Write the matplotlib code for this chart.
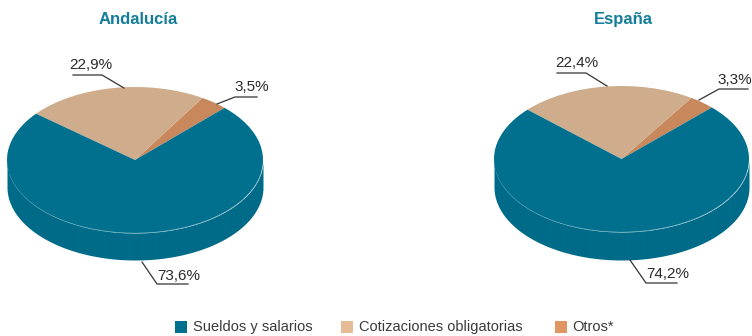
import numpy as np
import matplotlib
matplotlib.use('Agg')
import matplotlib.pyplot as plt
from matplotlib.patches import Rectangle

plt.rcParams['font.family'] = ['Liberation Sans', 'DejaVu Sans']

categorias = ['Sueldos y salarios', 'Cotizaciones obligatorias', 'Otros*']
regiones = ['Andalucía', 'España']
# order: otros, cotizaciones, sueldos (counter clockwise from the start angle)
valores_and = [3.5, 22.9, 73.6]
valores_esp = [3.3, 22.4, 74.2]
etiquetas_and = ['3,5%', '22,9%', '73,6%']
etiquetas_esp = ['3,3%', '22,4%', '74,2%']
colores_pie = ['#C9885C', '#CFAC8B', '#00708E']
colores_ley = ['#00708E', '#E6BC96', '#E09562']
color_lado = '#006B89'
W, H = 752, 336

fig = plt.figure(figsize=(W / 100, H / 100), dpi=100)

# overlay in pixel coordinates for labels, leaders and legend
over = fig.add_axes([0, 0, 1, 1], zorder=5)
over.set_xlim(0, W)
over.set_ylim(H, 0)
over.axis('off')


def tarta(cx, cy, rx, ry, prof, valores, inicio, facetas):
    ax = fig.add_axes([(cx - rx) / W, 1 - (cy + ry) / H, 2 * rx / W, 2 * ry / H])
    t = np.linspace(np.pi, 2 * np.pi, 200)
    d = prof / ry
    ax.fill_between(np.cos(t), np.sin(t), np.sin(t) - d, color=color_lado, lw=0, clip_on=False)
    t2 = np.linspace(np.pi + 0.2, 2 * np.pi - 0.2, 200)
    ax.plot(np.cos(t2), np.sin(t2), color='#3F94AC', lw=0.35, clip_on=False, zorder=3)
    for px in facetas:
        u = (px - cx) / rx
        y0 = -np.sqrt(1 - u ** 2)
        ax.plot([u, u], [y0, y0 - d], color='#087592', lw=0.35, clip_on=False)
    ax.pie(valores, colors=colores_pie, startangle=inicio, radius=1,
           wedgeprops={'linewidth': 0, 'clip_on': False})
    ax.set_aspect('auto')
    ax.set_xlim(-1, 1)
    ax.set_ylim(-1, 1)


tarta(135, 160, 128, 73, 27, valores_and, 45.6, [64, 79, 105, 130, 143, 157, 227, 243])
tarta(621.5, 159, 127.5, 73, 28, valores_esp, 44.9, [550, 565, 591, 616, 629, 643, 713, 730])


def etiqueta(txt, tx, ty, puntos):
    over.text(tx, ty + 0.8, txt, ha='center', va='center', fontsize=11, color='#2B2B2B')
    over.plot(*zip(*puntos), color='#333333', lw=0.9)


etiqueta(etiquetas_and[1], 91, 64, [(73, 75), (102, 75), (124, 88)])
etiqueta(etiquetas_and[0], 252, 86, [(217, 104), (235, 97), (257, 97)])
etiqueta(etiquetas_and[2], 179, 275, [(142, 262), (157, 284), (188, 284)])
etiqueta(etiquetas_esp[1], 577, 62, [(557, 73), (586, 73), (607, 86)])
etiqueta(etiquetas_esp[0], 734.5, 79, [(699, 100), (719, 89), (748, 89)])
etiqueta(etiquetas_esp[2], 668, 273, [(630, 260), (646, 283), (677, 283)])

over.text(138, 19.5, regiones[0], ha='center', va='center', fontsize=12,
          fontweight='bold', color='#137D9B')
over.text(623, 19.5, regiones[1], ha='center', va='center', fontsize=12,
          fontweight='bold', color='#137D9B')

for x, c, txt, xt in zip([175, 341, 555], colores_ley, categorias, [193, 359, 572]):
    over.add_patch(Rectangle((x, 321), 12, 12, color=c, lw=0))
    over.text(xt, 327, txt, ha='left', va='center', fontsize=10.5, color='#3A3A3A')

fig.savefig('out.png', dpi=100)
